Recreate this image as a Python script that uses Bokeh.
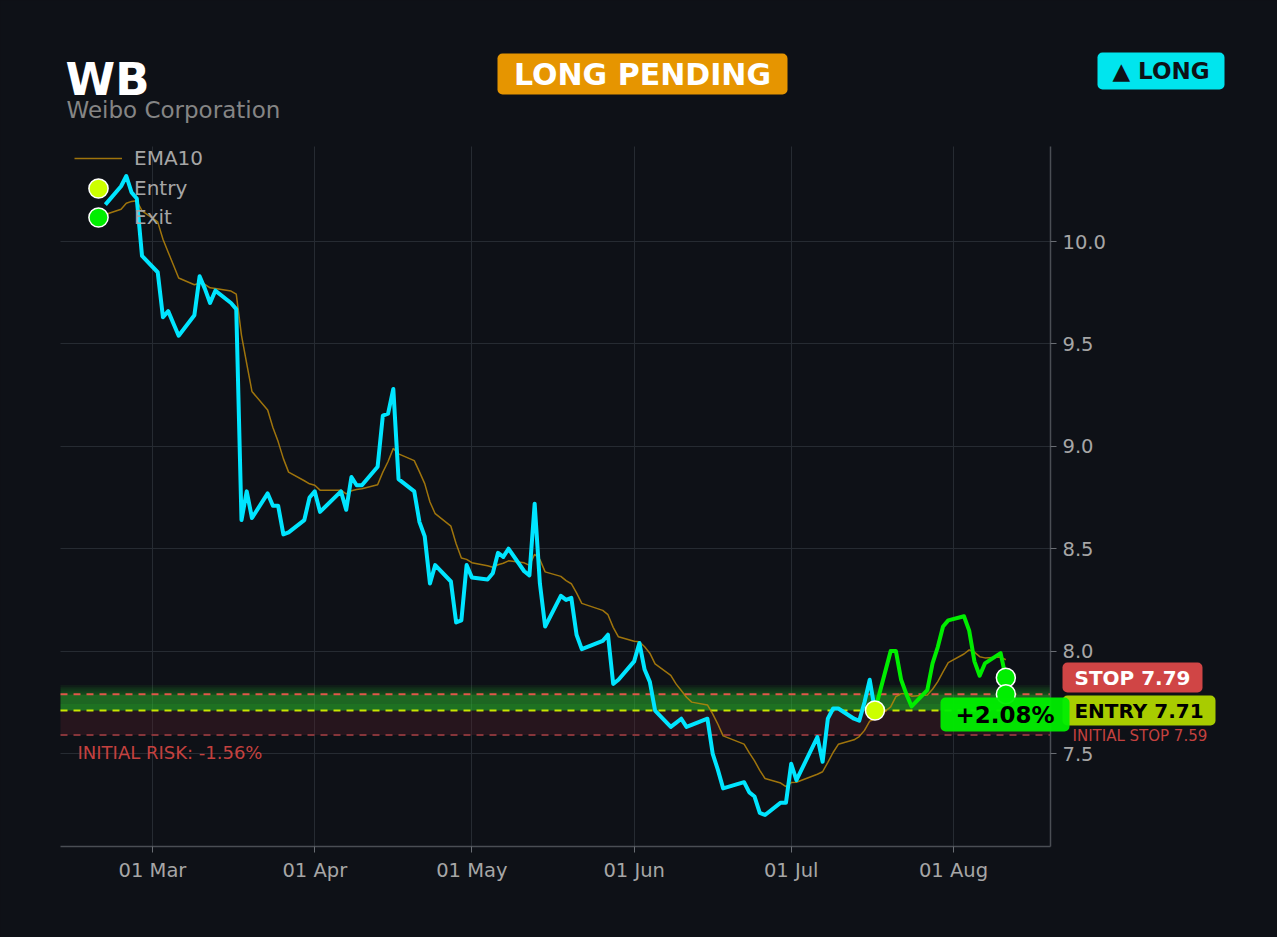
from datetime import datetime
import pandas as pd
from bokeh.plotting import figure
from bokeh.models import (Range1d, DatetimeTickFormatter, MonthsTicker, SingleIntervalTicker,
                          NumeralTickFormatter, Legend, LegendItem, BoxAnnotation, Label,
                          DatetimeAxis, LinearAxis, Grid)
from bokeh.embed import file_html
from bokeh.resources import INLINE

# ---------------- data ----------------
ticker = "WB"
company = "Weibo Corporation"
status = "LONG PENDING"
side = "\u25B2 LONG"

dates = [
    "2026-02-20", "2026-02-23", "2026-02-24", "2026-02-25", "2026-02-26", "2026-02-27",
    "2026-03-02", "2026-03-03", "2026-03-04", "2026-03-05", "2026-03-06",
    "2026-03-09", "2026-03-10", "2026-03-11", "2026-03-12", "2026-03-13",
    "2026-03-16", "2026-03-17", "2026-03-18", "2026-03-19", "2026-03-20",
    "2026-03-23", "2026-03-24", "2026-03-25", "2026-03-26", "2026-03-27",
    "2026-03-30", "2026-03-31", "2026-04-01", "2026-04-02",
    "2026-04-06", "2026-04-07", "2026-04-08", "2026-04-09", "2026-04-10",
    "2026-04-13", "2026-04-14", "2026-04-15", "2026-04-16", "2026-04-17",
    "2026-04-20", "2026-04-21", "2026-04-22", "2026-04-23", "2026-04-24",
    "2026-04-27", "2026-04-28", "2026-04-29", "2026-04-30", "2026-05-01",
    "2026-05-04", "2026-05-05", "2026-05-06", "2026-05-07", "2026-05-08",
    "2026-05-11", "2026-05-12", "2026-05-13", "2026-05-14", "2026-05-15",
    "2026-05-18", "2026-05-19", "2026-05-20", "2026-05-21", "2026-05-22",
    "2026-05-26", "2026-05-27", "2026-05-28", "2026-05-29",
    "2026-06-01", "2026-06-02", "2026-06-03", "2026-06-04", "2026-06-05",
    "2026-06-08", "2026-06-09", "2026-06-10", "2026-06-11", "2026-06-12",
    "2026-06-15", "2026-06-16", "2026-06-17", "2026-06-18",
    "2026-06-22", "2026-06-23", "2026-06-24", "2026-06-25", "2026-06-26",
    "2026-06-29", "2026-06-30", "2026-07-01", "2026-07-02",
    "2026-07-06", "2026-07-07", "2026-07-08", "2026-07-09", "2026-07-10",
    "2026-07-13", "2026-07-14", "2026-07-15", "2026-07-16", "2026-07-17",
    "2026-07-20", "2026-07-21", "2026-07-22", "2026-07-23", "2026-07-24",
    "2026-07-27", "2026-07-28", "2026-07-29", "2026-07-30", "2026-07-31",
    "2026-08-03", "2026-08-04", "2026-08-05", "2026-08-06", "2026-08-07",
    "2026-08-10", "2026-08-11",
]

close = [
    10.18, 10.27, 10.32, 10.24, 10.21, 9.93,
    9.85, 9.63, 9.66, 9.60, 9.54,
    9.64, 9.83, 9.77, 9.70, 9.76,
    9.70, 9.67, 8.64, 8.78, 8.65,
    8.77, 8.71, 8.71, 8.57, 8.58,
    8.64, 8.75, 8.78, 8.68,
    8.78, 8.69, 8.85, 8.81, 8.81,
    8.90, 9.15, 9.16, 9.28, 8.84,
    8.78, 8.63, 8.56, 8.33, 8.42,
    8.34, 8.14, 8.15, 8.42, 8.36,
    8.35, 8.38, 8.48, 8.46, 8.50,
    8.39, 8.37, 8.72, 8.33, 8.12,
    8.27, 8.25, 8.26, 8.08, 8.01,
    8.05, 8.08, 7.84, 7.86,
    7.95, 8.04, 7.91, 7.85, 7.71,
    7.63, 7.65, 7.67, 7.63, 7.64,
    7.67, 7.50, 7.42, 7.33,
    7.36, 7.31, 7.29, 7.21, 7.20,
    7.26, 7.26, 7.45, 7.37,
    7.58, 7.46, 7.67, 7.72, 7.72,
    7.67, 7.66, 7.75, 7.86, 7.71,
    8.00, 8.00, 7.86, 7.79, 7.73,
    7.81, 7.94, 8.02, 8.12, 8.15,
    8.17, 8.10, 7.95, 7.88, 7.94,
    7.99, 7.87,
]

ema10 = [
    10.132, 10.158, 10.187, 10.196, 10.199, 10.150,
    10.096, 10.011, 9.948, 9.885, 9.822,
    9.789, 9.797, 9.791, 9.774, 9.771,
    9.758, 9.743, 9.542, 9.404, 9.268,
    9.177, 9.092, 9.023, 8.940, 8.874,
    8.832, 8.817, 8.810, 8.786,
    8.786, 8.768, 8.783, 8.789, 8.793,
    8.812, 8.874, 8.926, 8.990, 8.963,
    8.930, 8.875, 8.818, 8.728, 8.671,
    8.610, 8.524, 8.455, 8.448, 8.432,
    8.417, 8.410, 8.422, 8.429, 8.441,
    8.431, 8.419, 8.473, 8.447, 8.387,
    8.365, 8.344, 8.329, 8.284, 8.233,
    8.199, 8.178, 8.116, 8.070,
    8.048, 8.046, 8.021, 7.990, 7.938,
    7.882, 7.840, 7.808, 7.775, 7.751,
    7.737, 7.694, 7.643, 7.586,
    7.546, 7.503, 7.464, 7.418, 7.378,
    7.356, 7.338, 7.358, 7.360,
    7.399, 7.411, 7.457, 7.505, 7.545,
    7.567, 7.583, 7.613, 7.658, 7.667,
    7.728, 7.778, 7.792, 7.792, 7.780,
    7.786, 7.814, 7.851, 7.899, 7.944,
    7.986, 8.006, 7.995, 7.973, 7.967,
    7.971, 7.958,
]

entry_dates = ["2026-07-17"]
entry_prices = [7.71]
exit_dates = ["2026-08-11", "2026-08-11"]
exit_prices = [7.87, 7.79]

stop_level = 7.79
entry_level = 7.71
initial_stop_level = 7.59

# ---------------- layout / styling ----------------
W, H = 1277, 937
BG = "#0e1117"
FONT = "DejaVu Sans"
CYAN = "#00e5ff"
GREEN = "#00ee00"
ENTRY_C = "#ccff00"
EMA_C = "#b8860b"
TXT = "#a6a6a6"
RED_TXT = "#c4413f"

# plotting region in page pixels and its data bounds
PX0, PX1, PY0, PY1 = 60, 1050, 146, 846
XMIN = pd.Timestamp("2026-02-11 10:19").value / 1e6
XMAX = pd.Timestamp("2026-08-19 12:43").value / 1e6
YMIN, YMAX = 7.046, 10.464

ms_per_px = (XMAX - XMIN) / (PX1 - PX0)
u_per_px = (YMAX - YMIN) / (PY1 - PY0)
x_range = Range1d(XMIN - PX0 * ms_per_px, XMAX + (W - PX1) * ms_per_px)
y_range = Range1d(YMIN - (H - PY1) * u_per_px, YMAX + PY0 * u_per_px)


def sx(X):
    return X


def sy(Y):
    return H - Y


dts = pd.to_datetime(dates)
entry_dts = pd.to_datetime(entry_dates)
exit_dts = pd.to_datetime(exit_dates)
split = dates.index(entry_dates[0])

p = figure(width=W, height=H, min_border=0, min_border_left=0, min_border_right=0,
           min_border_top=0, min_border_bottom=0, title=None,
           x_axis_location=None, y_axis_location=None,
           x_range=x_range, y_range=y_range,
           toolbar_location=None, output_backend="svg",
           background_fill_color=BG, border_fill_color=BG, outline_line_color=None)
p.grid.visible = False

# axes (fixed inside the full-canvas frame)
xaxis = DatetimeAxis(ticker=MonthsTicker(months=list(range(1, 13))),
                     formatter=DatetimeTickFormatter(months="%d %b", days="%d %b"),
                     fixed_location=YMIN, bounds=(XMIN, XMAX))
yaxis = LinearAxis(ticker=SingleIntervalTicker(interval=0.5),
                   formatter=NumeralTickFormatter(format="0.0"),
                   fixed_location=XMAX, bounds=(YMIN, YMAX))
for ax in (xaxis, yaxis):
    ax.axis_line_color = "#4a4e54"
    ax.axis_line_width = 1.5
    ax.major_tick_line_color = "#6a6e74"
    ax.major_tick_out = 6
    ax.major_tick_in = 0
    ax.minor_tick_line_color = None
    ax.major_label_text_color = TXT
    ax.major_label_text_font = FONT
    ax.major_label_text_font_size = "19.5px"
    ax.major_label_standoff = 6
p.add_layout(xaxis, "below")
p.add_layout(yaxis, "right")

p.add_layout(Grid(dimension=0, ticker=xaxis.ticker, bounds=(XMIN, XMAX), cross_bounds=(YMIN, YMAX),
                  grid_line_color="#262b32", level="underlay"))
p.add_layout(Grid(dimension=1, ticker=yaxis.ticker, bounds=(YMIN, YMAX), cross_bounds=(XMIN, XMAX),
                  grid_line_color="#262b32", level="underlay"))


# bands
def band(lo, hi, color, alpha):
    p.add_layout(BoxAnnotation(left=XMIN, right=XMAX, bottom=lo, top=hi, fill_color=color,
                               fill_alpha=alpha, line_color=None, level="underlay"))


band(initial_stop_level, entry_level, "#5a1e2a", 0.32)
band(entry_level, stop_level, "#2dc42d", 0.48)
band(entry_level, entry_level + (stop_level - entry_level) * 0.4, "#2dc42d", 0.12)
for k in range(1, 6):
    band(stop_level, stop_level + 0.009 * k, "#2dc42d", 0.07)

for lvl, col in ((stop_level, "#e0574a"), (entry_level, "#c8e600"), (initial_stop_level, "#86353a")):
    p.segment(x0=[XMIN], x1=[XMAX], y0=[lvl], y1=[lvl], line_color=col, line_dash="7 6", line_width=2)

# series
ema_r = p.line(dts, ema10, line_color=EMA_C, line_alpha=0.85, line_width=1.5)
p.line(dts[:split + 1], close[:split + 1], line_color=CYAN, line_width=4, line_join="round")
p.line(dts[split:], close[split:], line_color=GREEN, line_width=4, line_join="round")
entry_r = p.scatter(entry_dts, entry_prices, size=19, fill_color=ENTRY_C, line_color="white", line_width=1.5)
exit_r = p.scatter(exit_dts, exit_prices, size=19, fill_color=GREEN, line_color="white", line_width=1.5)

# legend: one single-row legend per item so the rows can sit 30px apart with large markers
for lab, rend, yc in (("EMA10", ema_r, 158), ("Entry", entry_r, 188), ("Exit", exit_r, 217)):
    p.add_layout(Legend(items=[LegendItem(label=lab, renderers=[rend])],
                        location=(74, H - yc - 24), glyph_width=48, glyph_height=48, label_height=48,
                        spacing=0, padding=0, margin=0, label_standoff=12,
                        label_text_font=FONT, label_text_font_size="20px", label_text_color=TXT,
                        background_fill_alpha=0, border_line_alpha=0))


def text(x, y, t, color, size, bold=False, align="left", baseline="middle"):
    p.add_layout(Label(x=sx(x), y=sy(y), x_units="screen", y_units="screen", text=t,
                       text_color=color, text_font=FONT, text_font_size=size,
                       text_font_style="bold" if bold else "normal",
                       text_align=align, text_baseline=baseline))


def badge(x0, x1, y0, y1, fill, t, color, size, alpha=1.0):
    p.add_layout(BoxAnnotation(left=sx(x0), right=sx(x1), top=sy(y0), bottom=sy(y1),
                               left_units="screen", right_units="screen",
                               top_units="screen", bottom_units="screen",
                               fill_color=fill, fill_alpha=alpha, line_color=None,
                               border_radius=5, level="annotation"))
    text((x0 + x1) / 2, (y0 + y1) / 2, t, color, size, bold=True, align="center")


# titles
text(65, 79, ticker, "white", "45px", bold=True)
text(66, 109, company, "#858585", "23px")
badge(497, 787, 53, 94, "#e69500", status, "white", "30px")
badge(1097, 1224, 52, 89, "#00e5ee", side, BG, "23px")

# price level tags
badge(1062, 1202, 662, 692, "#d04545", f"STOP {stop_level:.2f}", "white", "20px")
badge(1062, 1215, 695, 725, "#a8cc00", f"ENTRY {entry_level:.2f}", "black", "20px")
text(1072, 735, f"INITIAL STOP {initial_stop_level:.2f}", RED_TXT, "15px")
pnl = (exit_prices[0] - entry_prices[0]) / entry_prices[0] * 100
badge(940, 1069, 697, 731, GREEN, f"{pnl:+.2f}%", "black", "23px", alpha=0.95)
risk = (initial_stop_level - entry_level) / entry_level * 100
text(77, 752, f"INITIAL RISK: {risk:.2f}%", RED_TXT, "18px")

html = file_html(p, INLINE)
html = html.replace("</head>", f"<style>html, body {{ background-color: {BG}; }}</style></head>", 1)
open("out.html", "w").write(html)
